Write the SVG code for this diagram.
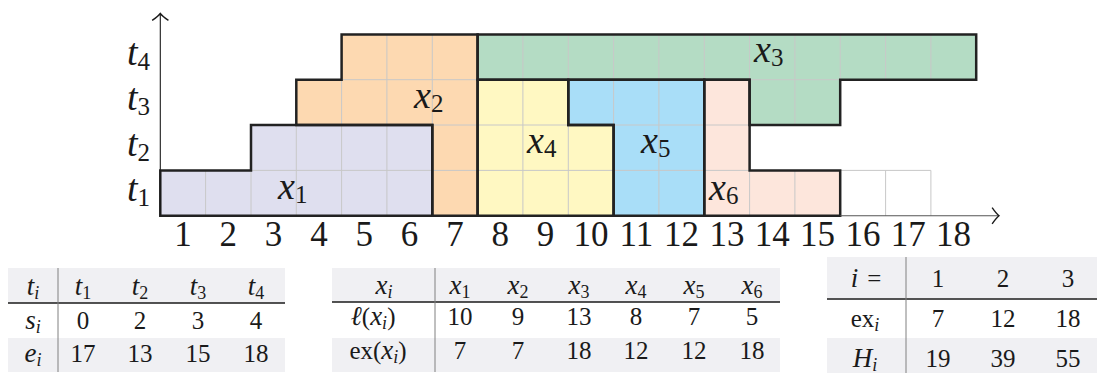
<svg xmlns="http://www.w3.org/2000/svg" width="1098" height="373" viewBox="0 0 1098 373">
<defs>
<style>
.m{font-family:"Liberation Serif","Times New Roman",serif;fill:#1a1a1a}
.lab{font-size:35px}
.tab{font-size:25px}
.it{font-style:italic}
.bi{font-style:italic;font-size:38px}
.ti{font-style:italic;font-size:27px}
.grid{stroke:#c8c8c8;stroke-width:1;fill:none}
.out{stroke:#222;stroke-width:2.5;fill:none;stroke-linejoin:miter}
.hdr{fill:#f0f0f3}
.thick{stroke:#1a1a1a;stroke-width:1.6}
.vsep{stroke:#808080;stroke-width:1}
</style>
<marker id="arr" markerUnits="userSpaceOnUse" markerWidth="20" markerHeight="20" refX="0" refY="0" viewBox="-8 -8 16 16" orient="auto" overflow="visible">
<path d="M-5.5,-6.5 Q-2,-1.5 0,0 Q-2,1.5 -5.5,6.5" fill="none" stroke="#1a1a1a" stroke-width="1.1"/>
</marker>
</defs>
<rect width="1098" height="373" fill="#fff"/>

<g id="empty">
<path class="grid" d="M840.2,170.4 H930.9 V215.7 M885.6,170.4 V215.7"/>
</g>

<g id="x1">
<path d="M160.3,215.7 V170.4 H251.0 V125.0 H432.3 V215.7 Z" fill="#dfdfef"/>
<path class="grid" d="M205.6,170.4 V215.7 M251.0,170.4 V215.7 M296.3,125.0 V215.7 M341.6,125.0 V215.7 M386.9,125.0 V215.7 M251.0,170.4 H432.3"/>
</g>
<g id="x2">
<path d="M432.3,215.7 V125.0 H296.3 V79.7 H341.6 V34.4 H477.6 V215.7 Z" fill="#fdd9b1"/>
<path class="grid" d="M432.3,170.4 H477.6 M432.3,125.0 H477.6 M341.6,79.7 H477.6 M341.6,79.7 V125.0 M386.9,34.4 V125.0 M432.3,34.4 V125.0"/>
</g>
<g id="x3">
<path d="M477.6,34.4 H976.2 V79.7 H840.2 V125.0 H749.6 V79.7 H477.6 Z" fill="#b4dcc4"/>
<path class="grid" d="M522.9,34.4 V79.7 M568.3,34.4 V79.7 M613.6,34.4 V79.7 M658.9,34.4 V79.7 M704.3,34.4 V79.7 M749.6,34.4 V79.7 M794.9,34.4 V125.0 M840.2,34.4 V79.7 M885.6,34.4 V79.7 M930.9,34.4 V79.7 M749.6,79.7 H840.2"/>
</g>
<g id="x4">
<path d="M477.6,215.7 V79.7 H568.3 V125.0 H613.6 V215.7 Z" fill="#fff8c2"/>
<path class="grid" d="M522.9,79.7 V215.7 M568.3,125.0 V215.7 M477.6,170.4 H613.6 M477.6,125.0 H568.3"/>
</g>
<g id="x5">
<path d="M568.3,79.7 H704.3 V215.7 H613.6 V125.0 H568.3 Z" fill="#a9def8"/>
<path class="grid" d="M613.6,79.7 V125.0 M658.9,79.7 V215.7 M613.6,125.0 H704.3 M613.6,170.4 H704.3"/>
</g>
<g id="x6">
<path d="M704.3,79.7 H749.6 V170.4 H840.2 V215.7 H704.3 Z" fill="#fde6dc"/>
<path class="grid" d="M704.3,125.0 H749.6 M704.3,170.4 H749.6 M749.6,170.4 V215.7 M794.9,170.4 V215.7"/>
</g>

<g id="outlines">
<path class="out" d="M160.3,215.7 V170.4 H251.0 V125.0 H432.3 V215.7 Z"/>
<path class="out" d="M432.3,215.7 V125.0 H296.3 V79.7 H341.6 V34.4 H477.6 V215.7 Z"/>
<path class="out" d="M477.6,34.4 H976.2 V79.7 H840.2 V125.0 H749.6 V79.7 H477.6 Z"/>
<path class="out" d="M477.6,215.7 V79.7 H568.3 V125.0 H613.6 V215.7 Z"/>
<path class="out" d="M568.3,79.7 H704.3 V215.7 H613.6 V125.0 H568.3 Z"/>
<path class="out" d="M704.3,79.7 H749.6 V170.4 H840.2 V215.7 H704.3 Z"/>
</g>

<g id="connectors">
<line x1="160.3" y1="215.7" x2="160.3" y2="13.5" stroke="#1a1a1a" stroke-width="1.1" marker-end="url(#arr)"/>
<line x1="840.2" y1="215.7" x2="999" y2="215.7" stroke="#555" stroke-width="1.1" marker-end="url(#arr)"/>
</g>

<g id="shape-labels" class="m lab">
<text x="278" y="199"><tspan class="bi">x</tspan><tspan font-size="25" dy="4">1</tspan></text>
<text x="414" y="108"><tspan class="bi">x</tspan><tspan font-size="25" dy="4">2</tspan></text>
<text x="754" y="62"><tspan class="bi">x</tspan><tspan font-size="25" dy="4">3</tspan></text>
<text x="527" y="153"><tspan class="bi">x</tspan><tspan font-size="25" dy="4">4</tspan></text>
<text x="641" y="153"><tspan class="bi">x</tspan><tspan font-size="25" dy="4">5</tspan></text>
<text x="709" y="200"><tspan class="bi">x</tspan><tspan font-size="25" dy="4">6</tspan></text>
</g>

<g id="y-labels" class="m lab">
<text x="127" y="201"><tspan class="bi">t</tspan><tspan font-size="25" dy="5">1</tspan></text>
<text x="127" y="156"><tspan class="bi">t</tspan><tspan font-size="25" dy="5">2</tspan></text>
<text x="127" y="110"><tspan class="bi">t</tspan><tspan font-size="25" dy="5">3</tspan></text>
<text x="127" y="65"><tspan class="bi">t</tspan><tspan font-size="25" dy="5">4</tspan></text>
</g>

<g id="x-labels" class="m lab" text-anchor="middle">
<text x="183.0" y="246">1</text>
<text x="228.3" y="246">2</text>
<text x="273.6" y="246">3</text>
<text x="319.0" y="246">4</text>
<text x="364.3" y="246">5</text>
<text x="409.6" y="246">6</text>
<text x="455.0" y="246">7</text>
<text x="500.3" y="246">8</text>
<text x="545.6" y="246">9</text>
<text x="591.0" y="246">10</text>
<text x="636.3" y="246">11</text>
<text x="681.6" y="246">12</text>
<text x="727.0" y="246">13</text>
<text x="772.3" y="246">14</text>
<text x="817.6" y="246">15</text>
<text x="862.9" y="246">16</text>
<text x="908.2" y="246">17</text>
<text x="953.6" y="246">18</text>
</g>

<g id="table-t">
<rect class="hdr" x="8" y="268" width="277" height="35"/>
<rect class="hdr" x="8" y="338" width="277" height="34"/>
<line class="thick" x1="8" y1="303" x2="285" y2="303"/>
<line class="vsep" x1="58" y1="268" x2="58" y2="372"/>
<g class="m tab" text-anchor="middle">
<text x="33" y="295"><tspan class="ti">t</tspan><tspan class="it" font-size="18" dy="4">i</tspan></text>
<text x="83" y="295"><tspan class="ti">t</tspan><tspan font-size="18" dy="4">1</tspan></text>
<text x="140" y="295"><tspan class="ti">t</tspan><tspan font-size="18" dy="4">2</tspan></text>
<text x="198" y="295"><tspan class="ti">t</tspan><tspan font-size="18" dy="4">3</tspan></text>
<text x="256" y="295"><tspan class="ti">t</tspan><tspan font-size="18" dy="4">4</tspan></text>
<text x="33" y="329"><tspan class="ti">s</tspan><tspan class="it" font-size="18" dy="4">i</tspan></text>
<text x="83" y="329">0</text>
<text x="140" y="329">2</text>
<text x="198" y="329">3</text>
<text x="256" y="329">4</text>
<text x="33" y="362"><tspan class="ti">e</tspan><tspan class="it" font-size="18" dy="4">i</tspan></text>
<text x="83" y="362">17</text>
<text x="140" y="362">13</text>
<text x="198" y="362">15</text>
<text x="256" y="362">18</text>
</g>
</g>

<g id="table-x">
<rect class="hdr" x="332" y="268" width="448" height="34"/>
<rect class="hdr" x="332" y="338" width="448" height="34"/>
<line class="thick" x1="332" y1="302" x2="780" y2="302"/>
<line class="vsep" x1="435" y1="268" x2="435" y2="372"/>
<g class="m tab" text-anchor="middle">
<text x="384" y="294"><tspan class="ti">x</tspan><tspan class="it" font-size="18" dy="4">i</tspan></text>
<text x="460" y="294"><tspan class="ti">x</tspan><tspan font-size="18" dy="4">1</tspan></text>
<text x="518" y="294"><tspan class="ti">x</tspan><tspan font-size="18" dy="4">2</tspan></text>
<text x="579" y="294"><tspan class="ti">x</tspan><tspan font-size="18" dy="4">3</tspan></text>
<text x="636" y="294"><tspan class="ti">x</tspan><tspan font-size="18" dy="4">4</tspan></text>
<text x="694" y="294"><tspan class="ti">x</tspan><tspan font-size="18" dy="4">5</tspan></text>
<text x="752" y="294"><tspan class="ti">x</tspan><tspan font-size="18" dy="4">6</tspan></text>
<text x="373" y="325"><tspan class="ti">ℓ</tspan>(<tspan class="ti">x</tspan><tspan class="it" font-size="18" dy="4">i</tspan><tspan dy="-4">)</tspan></text>
<text x="460" y="325">10</text>
<text x="518" y="325">9</text>
<text x="579" y="325">13</text>
<text x="636" y="325">8</text>
<text x="694" y="325">7</text>
<text x="752" y="325">5</text>
<text x="378" y="359">ex(<tspan class="ti">x</tspan><tspan class="it" font-size="18" dy="4">i</tspan><tspan dy="-4">)</tspan></text>
<text x="460" y="359">7</text>
<text x="518" y="359">7</text>
<text x="579" y="359">18</text>
<text x="636" y="359">12</text>
<text x="694" y="359">12</text>
<text x="752" y="359">18</text>
</g>
</g>

<g id="table-h">
<rect class="hdr" x="827" y="257" width="270" height="41"/>
<rect class="hdr" x="827" y="338" width="270" height="35"/>
<line class="thick" x1="827" y1="299" x2="1097" y2="299"/>
<line class="vsep" x1="906" y1="257" x2="906" y2="373"/>
<g class="m tab" text-anchor="middle">
<text x="866" y="287"><tspan class="ti">i</tspan><tspan dx="9">=</tspan></text>
<text x="938" y="287">1</text>
<text x="1003" y="287">2</text>
<text x="1068" y="287">3</text>
<text x="865" y="327">ex<tspan class="it" font-size="18" dy="4">i</tspan></text>
<text x="938" y="327">7</text>
<text x="1003" y="327">12</text>
<text x="1068" y="327">18</text>
<text x="865" y="367"><tspan class="ti">H</tspan><tspan class="it" font-size="18" dy="4">i</tspan></text>
<text x="938" y="367">19</text>
<text x="1003" y="367">39</text>
<text x="1068" y="367">55</text>
</g>
</g>
</svg>
